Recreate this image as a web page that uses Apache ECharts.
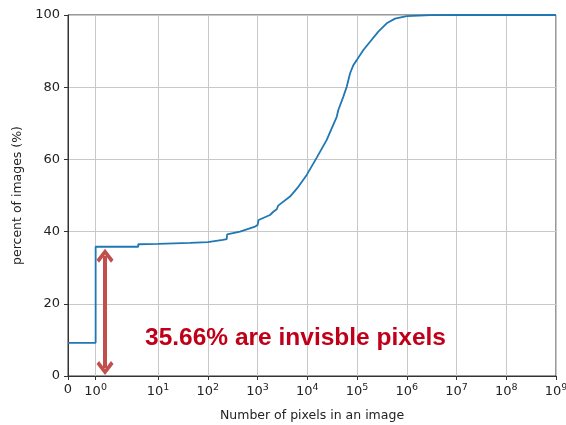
<!DOCTYPE html>
<html>
<head>
<meta charset="utf-8">
<script src="https://cdn.jsdelivr.net/npm/echarts@6/dist/echarts.min.js"></script>
<style>
html,body{margin:0;padding:0;background:#fff;}
#chart{width:566px;height:425px;}
</style>
</head>
<body>
<div id="chart"></div>
<script>
// Data: number of pixels (x) vs cumulative percent of images (y)
const pixelCounts = [0, 1, 1, 4, 4, 10, 44, 100, 200, 240, 245, 444, 891, 1000, 1050, 1780, 2075, 2432, 2600, 4500, 6600, 9750, 15500, 24600, 31000, 39100, 42100, 53100, 62100, 72300, 84300, 98600, 134000, 182800, 268000, 395000, 581000, 998000, 3000000, 10000000, 1000000000];
const percentImages = [9.2, 9.2, 35.8, 35.8, 36.5, 36.6, 36.9, 37.1, 37.7, 37.9, 39.2, 40.0, 41.4, 41.8, 43.2, 44.6, 45.5, 46.2, 47.2, 49.7, 52.4, 55.7, 60.5, 65.4, 68.6, 71.8, 73.7, 77.4, 80.1, 83.8, 86.1, 87.5, 90.3, 92.6, 95.4, 97.7, 99.0, 99.7, 99.95, 100, 100];
const xTickValues = [0, 1, 10, 100, 1000, 10000, 100000, 1000000, 10000000, 100000000, 1000000000];
const xTickExponents = [null, 0, 1, 2, 3, 4, 5, 6, 7, 8, 9];
const yTickValues = [0, 20, 40, 60, 80, 100];
const annotationText = '35.66% are invisble pixels';
const arrowPixels = 1.34;
const arrowTop = 33.3;
const arrowBottom = 2.2;

// symlog transform (linthresh = 2, linscale = 1, base 10), in decades
function symlog(x) {
  const t = 2, ls = 1 / (1 - 1 / 10);
  return x <= t ? x * ls / t : ls + Math.log10(x / t);
}

const seriesData = pixelCounts.map((x, i) => [symlog(x), percentImages[i]]);
const xTickPos = xTickValues.map(symlog);

function xLabel(v) {
  for (let i = 0; i < xTickPos.length; i++) {
    if (Math.abs(xTickPos[i] - v) < 1e-6) {
      if (xTickExponents[i] === null) return '{z|0}';
      return '{b|10}{s|' + xTickExponents[i] + '}';
    }
  }
  return '';
}

const chart = echarts.init(document.getElementById('chart'), null, {renderer: 'canvas'});
const fontFam = 'DejaVu Sans';
chart.setOption({
  animation: false,
  backgroundColor: '#ffffff',
  grid: {left: 68, right: 10, top: 15, bottom: 49, containLabel: false, outerBoundsMode: 'none', show: true, borderColor: '#333', borderWidth: 1, backgroundColor: 'transparent'},
  xAxis: {
    type: 'value',
    min: 0,
    max: symlog(1e9),
    name: 'Number of pixels in an image',
    nameLocation: 'middle',
    nameGap: 33,
    nameTextStyle: {fontFamily: fontFam, fontSize: 12.5, color: '#222'},
    axisLine: {show: true, lineStyle: {color: '#333', width: 1}},
    axisTick: {show: true, length: 4, lineStyle: {color: '#333'}, customValues: xTickPos},
    axisLabel: {
      customValues: xTickPos,
      formatter: xLabel,
      margin: 7,
      rich: {
        z: {fontFamily: fontFam, fontSize: 13, color: '#222', padding: [0, 0, 4, 0]},
        b: {fontFamily: fontFam, fontSize: 13, color: '#222'},
        s: {fontFamily: fontFam, fontSize: 9.5, color: '#222', padding: [0, 0, 7, 0]}
      }
    },
    splitLine: {show: true, lineStyle: {color: '#c8c8c8', width: 1}}
  },
  yAxis: {
    type: 'value',
    min: 0,
    max: 100,
    interval: 20,
    name: 'percent of images (%)',
    nameLocation: 'middle',
    nameGap: 43,
    nameTextStyle: {fontFamily: fontFam, fontSize: 12.5, color: '#222'},
    axisLine: {show: true, lineStyle: {color: '#333', width: 1}},
    axisTick: {show: true, length: 4, lineStyle: {color: '#333'}},
    axisLabel: {fontFamily: fontFam, fontSize: 13, color: '#222', margin: 8,
      formatter: v => yTickValues.includes(v) ? String(v) : ''},
    splitLine: {show: true, lineStyle: {color: '#c8c8c8', width: 1}}
  },
  series: [{
    type: 'line',
    data: seriesData,
    showSymbol: false,
    lineStyle: {color: '#1f77b4', width: 1.8},
    z: 3,
    markLine: {
      silent: true,
      symbol: ['path://M0,11 L10,0 L20,11 L17,14 L10,6 L3,14 Z', 'path://M0,11 L10,0 L20,11 L17,14 L10,6 L3,14 Z'],
      symbolSize: [17, 14],
      label: {show: false},
      lineStyle: {color: '#c0504d', width: 4, type: 'solid'},
      itemStyle: {color: '#c0504d'},
      data: [[{coord: [symlog(arrowPixels), arrowTop]}, {coord: [symlog(arrowPixels), arrowBottom]}]],
      z: 5
    }
  }],
  graphic: [{
    type: 'text',
    left: 145,
    top: 326,
    style: {text: annotationText, fill: '#c00018', font: 'bold 24.5px "Liberation Sans", Arial, sans-serif'},
    z: 10
  }]
});
</script>
</body>
</html>
